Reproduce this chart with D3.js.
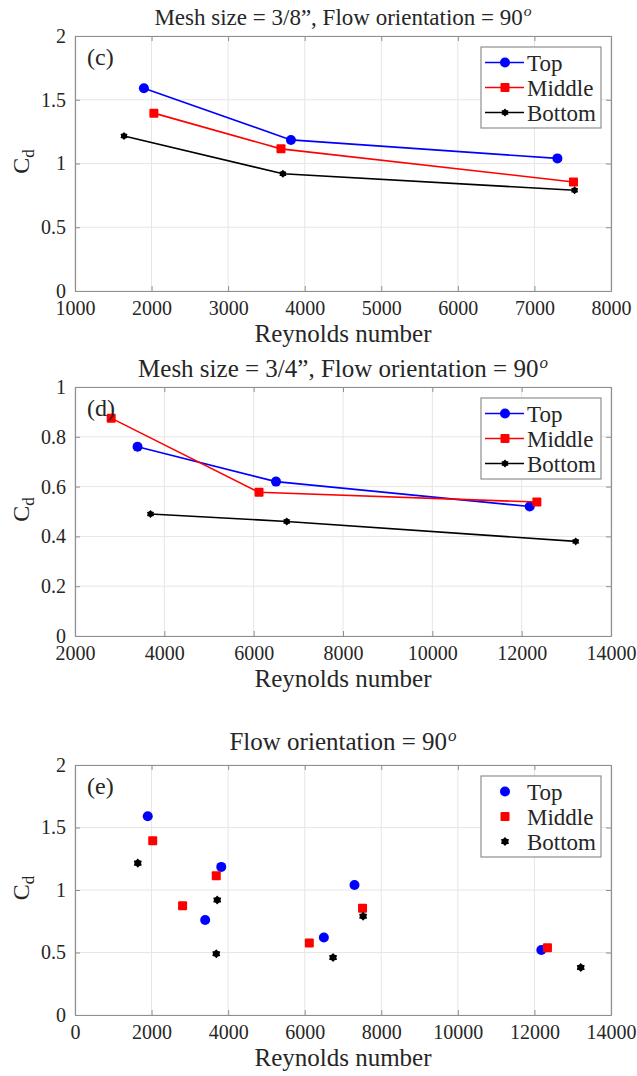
<!DOCTYPE html>
<html>
<head>
<meta charset="utf-8">
<script src="https://cdn.jsdelivr.net/npm/d3@7"></script>
</head>
<body style="margin:0;background:#fff">
<svg id="fig" width="637" height="1076"></svg>
<script>
// Drag coefficient vs Reynolds number, 90 degree flow orientation
const seriesNames = ["Top", "Middle", "Bottom"];
const seriesColors = ["#0000ff", "#ff0000", "#000000"];

// Mesh size 3/8"
const re38Top = [1900, 3820, 7300];
const cd38Top = [1.59, 1.185, 1.04];
const re38Middle = [2030, 3690, 7510];
const cd38Middle = [1.395, 1.115, 0.855];
const re38Bottom = [1640, 3715, 7525];
const cd38Bottom = [1.215, 0.92, 0.79];

// Mesh size 3/4"
const re34Top = [3400, 6500, 12180];
const cd34Top = [0.76, 0.62, 0.52];
const re34Middle = [2810, 6120, 12340];
const cd34Middle = [0.875, 0.577, 0.538];
const re34Bottom = [3690, 6740, 13210];
const cd34Bottom = [0.49, 0.46, 0.38];

// Tick values
const xTicksC = [1000, 2000, 3000, 4000, 5000, 6000, 7000, 8000];
const yTicksC = [0, 0.5, 1, 1.5, 2];
const xTicksD = [2000, 4000, 6000, 8000, 10000, 12000, 14000];
const yTicksD = [0, 0.2, 0.4, 0.6, 0.8, 1];
const xTicksE = [0, 2000, 4000, 6000, 8000, 10000, 12000, 14000];
const yTicksE = [0, 0.5, 1, 1.5, 2];

const zip = (xs, ys) => xs.map((x, i) => ({ x, y: ys[i] }));

const FONT = "'Liberation Serif'";
const INK = "#262626";
const svg = d3.select("#fig");
svg.append("rect").attr("width", 637).attr("height", 1076).attr("fill", "#fff");

const AX = "#8f8f8f", GRID = "#e6e6e6";

// six-pointed star marker
function hexagram(r) {
  const pts = [];
  for (let i = 0; i < 12; i++) {
    const a = -Math.PI / 2 + i * Math.PI / 6;
    const rr = i % 2 === 0 ? r : r * 0.72;
    pts.push([rr * Math.cos(a), rr * Math.sin(a)]);
  }
  return "M" + pts.map(p => p.join(",")).join("L") + "Z";
}

function drawMarker(g, kind, cx, cy, color, small) {
  if (kind === 0) {
    g.append("circle").attr("cx", cx).attr("cy", cy).attr("r", 5).attr("fill", color);
  } else if (kind === 1) {
    g.append("rect").attr("x", cx - 4.5).attr("y", cy - 4.5).attr("width", 9).attr("height", 9)
      .attr("rx", 1).attr("fill", color);
  } else {
    g.append("path").attr("transform", `translate(${cx},${cy})`)
      .attr("d", hexagram(small ? 4 : 4.6)).attr("fill", color);
  }
}

function txt(sel, size) {
  return sel.append("text").attr("font-family", FONT).attr("font-size", size).attr("fill", INK);
}

function panel(o) {
  const g = svg.append("g");
  const x = d3.scaleLinear().domain(o.xDomain).range([75, 611]);
  const y = d3.scaleLinear().domain(o.yDomain).range([o.bottom, o.top]);

  // grid
  g.selectAll(null).data(o.xTicks).join("line")
    .attr("x1", d => x(d)).attr("x2", d => x(d)).attr("y1", o.top).attr("y2", o.bottom)
    .attr("stroke", GRID).attr("stroke-width", 1);
  g.selectAll(null).data(o.yTicks).join("line")
    .attr("y1", d => y(d)).attr("y2", d => y(d)).attr("x1", 75).attr("x2", 611)
    .attr("stroke", GRID).attr("stroke-width", 1);

  // axes with inward ticks on all four sides
  const fmt = d3.format("");
  const bottomAxis = d3.axisBottom(x).tickValues(o.xTicks).tickSizeInner(-5).tickSizeOuter(0).tickPadding(10).tickFormat(fmt);
  const topAxis = d3.axisTop(x).tickValues(o.xTicks).tickSizeInner(-5).tickSizeOuter(0).tickFormat("");
  const leftAxis = d3.axisLeft(y).tickValues(o.yTicks).tickSizeInner(-5).tickSizeOuter(0).tickPadding(9).tickFormat(fmt);
  const rightAxis = d3.axisRight(y).tickValues(o.yTicks).tickSizeInner(-5).tickSizeOuter(0).tickFormat("");

  const styleAxis = sel => {
    sel.attr("font-family", FONT).attr("font-size", 20);
    sel.select(".domain").attr("stroke", AX).attr("stroke-width", 1.2);
    sel.selectAll(".tick line").attr("stroke", AX);
    sel.selectAll(".tick text").attr("font-family", FONT).attr("font-size", 20).attr("fill", INK);
  };
  g.append("g").attr("transform", `translate(0,${o.bottom})`).call(bottomAxis).call(styleAxis);
  g.append("g").attr("transform", `translate(0,${o.top})`).call(topAxis).call(styleAxis);
  g.append("g").attr("transform", `translate(75,0)`).call(leftAxis).call(styleAxis);
  g.append("g").attr("transform", `translate(611,0)`).call(rightAxis).call(styleAxis);

  // data
  o.series.forEach((pts, i) => {
    if (o.lines) {
      g.append("path").datum(pts)
        .attr("d", d3.line().x(d => x(d.x)).y(d => y(d.y)))
        .attr("fill", "none").attr("stroke", seriesColors[i]).attr("stroke-width", 1.6);
    }
    pts.forEach(d => drawMarker(g, i, x(d.x), y(d.y), seriesColors[i], o.lines));
  });

  // panel letter
  txt(g, 24).attr("x", 87).attr("y", o.top + 29).text(o.letter);

  // title with superscript degree "o"
  const t = txt(g, o.titleSize).attr("x", 343).attr("y", o.titleY).attr("text-anchor", "middle");
  t.append("tspan").text(o.title);
  t.append("tspan").attr("font-style", "italic").attr("font-size", o.titleSize * 0.68)
    .attr("dx", 1).attr("dy", -o.titleSize * 0.38).text("o");

  // axis labels
  txt(g, 25).attr("x", 343).attr("y", o.bottom + 51).attr("text-anchor", "middle")
    .text("Reynolds number");
  const yl = txt(g, 24)
    .attr("transform", `translate(29,${(o.top + o.bottom) / 2 - 2}) rotate(-90)`)
    .attr("text-anchor", "middle");
  yl.append("tspan").text("C");
  yl.append("tspan").attr("font-size", 17).attr("dy", 5).text("d");

  // legend
  const lg = g.append("g").attr("transform", `translate(481,${o.top + 11})`);
  lg.append("rect").attr("width", 120).attr("height", 81).attr("fill", "#fff")
    .attr("stroke", AX).attr("stroke-width", 1.2);
  seriesNames.forEach((name, i) => {
    const cy = 15.5 + i * 25;
    if (o.lines) {
      lg.append("line").attr("x1", 4).attr("x2", 43).attr("y1", cy).attr("y2", cy)
        .attr("stroke", seriesColors[i]).attr("stroke-width", 1.6);
    }
    drawMarker(lg, i, 24, cy, seriesColors[i], o.lines);
    txt(lg, 23).attr("x", 46).attr("y", cy + 8).text(name);
  });
}

const s38 = [zip(re38Top, cd38Top), zip(re38Middle, cd38Middle), zip(re38Bottom, cd38Bottom)];
const s34 = [zip(re34Top, cd34Top), zip(re34Middle, cd34Middle), zip(re34Bottom, cd34Bottom)];

panel({
  xDomain: [1000, 8000], yDomain: [0, 2], top: 36, bottom: 291,
  xTicks: xTicksC, yTicks: yTicksC, series: s38, lines: true, letter: "(c)",
  title: "Mesh size = 3/8\u201D, Flow orientation = 90", titleSize: 23, titleY: 25
});
panel({
  xDomain: [2000, 14000], yDomain: [0, 1], top: 387, bottom: 636,
  xTicks: xTicksD, yTicks: yTicksD, series: s34, lines: true, letter: "(d)",
  title: "Mesh size = 3/4\u201D, Flow orientation = 90", titleSize: 25, titleY: 377
});
panel({
  xDomain: [0, 14000], yDomain: [0, 2], top: 765, bottom: 1015,
  xTicks: xTicksE, yTicks: yTicksE,
  series: s38.map((s, i) => s.concat(s34[i])), lines: false, letter: "(e)",
  title: "Flow orientation = 90", titleSize: 25, titleY: 750
});
</script>
</body>
</html>
